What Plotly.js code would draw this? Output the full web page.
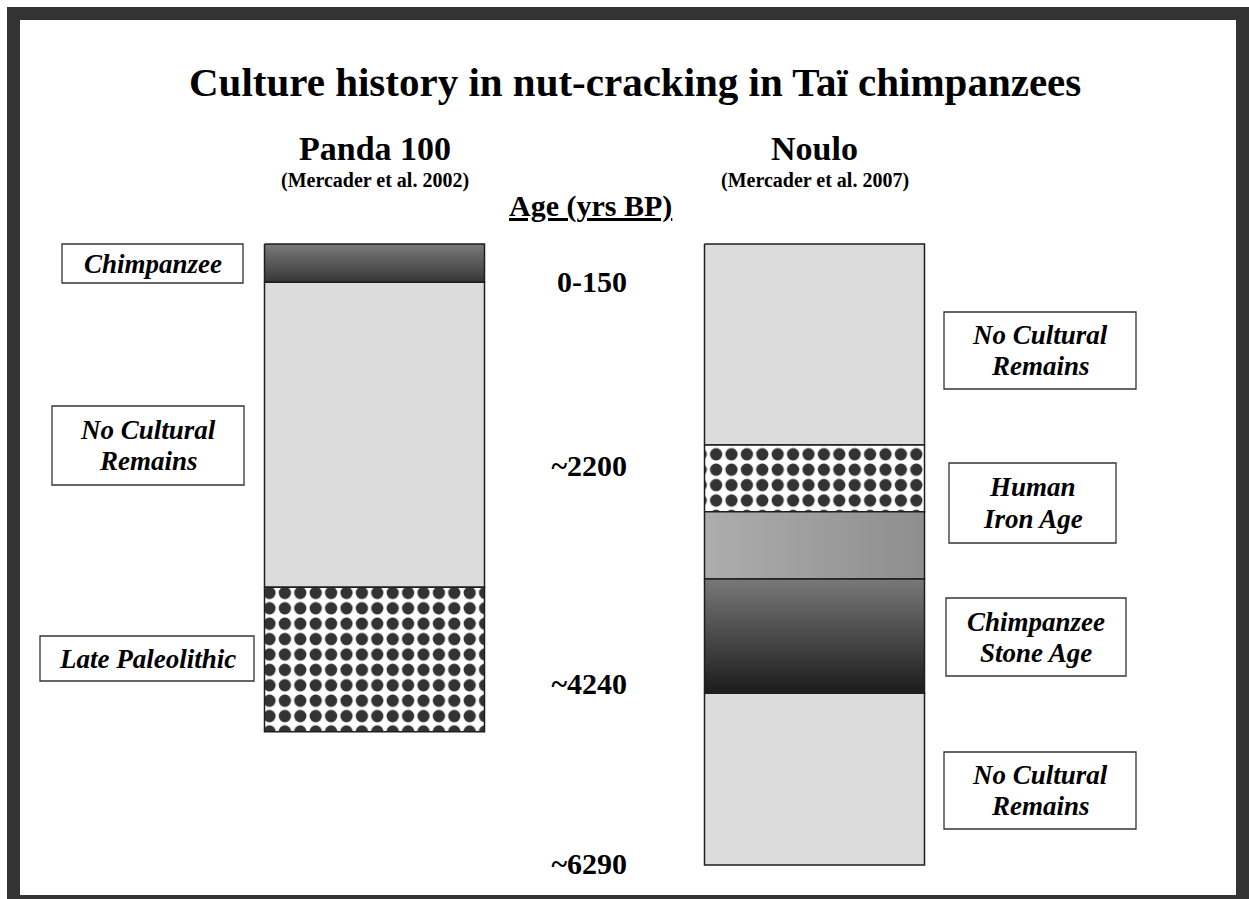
<!DOCTYPE html>
<html><head><meta charset="utf-8">
<script src="https://cdn.plot.ly/plotly-3.0.1.min.js"></script>
<style>html,body{margin:0;padding:0;background:#fff}</style>
</head><body><div id="chart" style="width:1249px;height:899px"></div>
<script>
// ---------------- DATA ----------------
const chartTitle = 'Culture history in nut-cracking in Taï chimpanzees';
const sites = ['Panda 100', 'Noulo'];
const siteRefs = ['(Mercader et al. 2002)', '(Mercader et al. 2007)'];
const ageAxisTitle = 'Age (yrs BP)';

// layers: relative depth (% of the Noulo section, top = 0)
const pandaLayerTop    = [0, 6.17, 55.28];
const pandaLayerBottom = [6.17, 55.28, 78.53];
const pandaLayerFill   = ['chimpBand', 'plain', 'checker'];

const nouloLayerTop    = [0, 32.37, 43.1, 53.94, 72.35];
const nouloLayerBottom = [32.37, 43.1, 53.94, 72.35, 100];
const nouloLayerFill   = ['plain', 'checker', 'ironBand', 'stoneBand', 'plain'];

const ageLabels = ['0-150', '~2200', '~4240', '~6290'];
const ageDepth  = [6.07, 35.6, 70.85, 99.8];

const pandaLabels = ['Chimpanzee', 'No Cultural<br>Remains', 'Late Paleolithic'];
const nouloLabels = ['No Cultural<br>Remains', 'Human<br>Iron Age', 'Chimpanzee<br>Stone Age', 'No Cultural<br>Remains'];

// ---------------- LAYOUT HELPERS ----------------
const W = 1249, H = 899;
const px = v => v / W;          // pixel -> paper x
const py = v => 1 - v / H;      // pixel -> paper y
const colWidth = 0.5;
const serif = 'Liberation Serif, Times New Roman, serif';

const fills = {
  plain:     {fillcolor: '#dcdcdc'},
  checker:   {fillcolor: '#ffffff', fillpattern: {shape: '.', fgcolor: '#333333', bgcolor: '#ffffff', size: 15.4, solidity: 0.5, fillmode: 'replace'}},
  chimpBand: {fillgradient: {type: 'vertical', colorscale: [[0, '#363636'], [1, '#7a7a7a']]}},
  ironBand:  {fillgradient: {type: 'horizontal', colorscale: [[0, '#adadad'], [1, '#8e8e8e']]}},
  stoneBand: {fillgradient: {type: 'vertical', colorscale: [[0, '#1c1c1c'], [1, '#787878']]}}
};

const traces = [];
function addColumn(center, tops, bottoms, fillKeys) {
  tops.forEach((t, i) => {
    const b = bottoms[i];
    const l = center - colWidth / 2, r = center + colWidth / 2;
    traces.push(Object.assign({
      type: 'scatter', mode: 'lines', fill: 'toself', hoverinfo: 'skip', showlegend: false,
      x: [l, r, r, l, l], y: [t, t, b, b, t],
      line: {color: '#1e1e1e', width: 1.5}
    }, fills[fillKeys[i]]));
  });
}
addColumn(1, pandaLayerTop, pandaLayerBottom, pandaLayerFill);
addColumn(2, nouloLayerTop, nouloLayerBottom, nouloLayerFill);

// label boxes (pixel positions: left, right, top, bottom)
const pandaBoxes = [[62, 243, 244, 283], [52, 244, 406, 485], [40, 254, 636, 681]];
const nouloBoxes = [[944, 1136, 312, 389], [949, 1116, 463, 543], [946, 1126, 598, 676], [944, 1136, 752, 829]];

const shapes = [
  {type: 'rect', xref: 'paper', yref: 'paper', layer: 'below', x0: px(7), x1: px(1260), y0: py(7), y1: py(910), fillcolor: '#333333', line: {width: 0}},
  {type: 'rect', xref: 'paper', yref: 'paper', layer: 'below', x0: px(20), x1: px(1236), y0: py(20), y1: py(895), fillcolor: '#ffffff', line: {width: 0}}
];
const annotations = [];
const labelFont = {family: serif, size: 27, color: '#000', weight: 'bold', style: 'italic'};
function addLabels(labels, boxes) {
  labels.forEach((txt, i) => {
    const [l, r, t, b] = boxes[i];
    shapes.push({type: 'rect', xref: 'paper', yref: 'paper', x0: px(l), x1: px(r), y0: py(t), y1: py(b),
      fillcolor: '#ffffff', line: {color: '#333333', width: 1.3}});
    const lines = txt.split('<br>');
    const cy = (t + b) / 2, gap = 31;
    lines.forEach((ln, k) => {
      const yy = cy + (k - (lines.length - 1) / 2) * gap;
      annotations.push({xref: 'paper', yref: 'paper', x: px((l + r) / 2), y: py(yy), text: ln,
        showarrow: false, xanchor: 'center', yanchor: 'middle', font: labelFont});
    });
  });
}
addLabels(pandaLabels, pandaBoxes);
addLabels(nouloLabels, nouloBoxes);

annotations.push({xref: 'paper', yref: 'paper', x: px(635), y: py(82), text: chartTitle, showarrow: false,
  xanchor: 'center', yanchor: 'middle', font: {family: serif, size: 41, weight: 'bold', color: '#000'}});
sites.forEach((s, i) => {
  annotations.push({xref: 'x', yref: 'paper', x: i + 1, y: py(148), text: s, showarrow: false,
    xanchor: 'center', yanchor: 'middle', font: {family: serif, size: 34, weight: 'bold', color: '#000'}});
  annotations.push({xref: 'x', yref: 'paper', x: i + 1, y: py(180), text: siteRefs[i], showarrow: false,
    xanchor: 'center', yanchor: 'middle', font: {family: serif, size: 20, weight: 'bold', color: '#000'}});
});
annotations.push({xref: 'paper', yref: 'paper', x: px(590), y: py(206), text: ageAxisTitle, showarrow: false,
  xanchor: 'center', yanchor: 'middle', font: {family: serif, size: 30, weight: 'bold', color: '#000', lineposition: 'under'}});

const layout = {
  width: W, height: H,
  margin: {l: 0, r: 0, t: 0, b: 0},
  paper_bgcolor: '#ffffff', plot_bgcolor: 'rgba(0,0,0,0)',
  showlegend: false,
  xaxis: {range: [1 - 374.5 / 440, 1 + (W - 374.5) / 440], visible: false, fixedrange: true},
  yaxis: {range: [(H - 244) / 6.21, -244 / 6.21], anchor: 'free', position: px(627), side: 'left',
    tickmode: 'array', tickvals: ageDepth, ticktext: ageLabels, ticks: '', showgrid: false, zeroline: false,
    showline: false, automargin: false, fixedrange: true,
    tickfont: {family: serif, size: 30, weight: 'bold', color: '#000'}},
  shapes: shapes,
  annotations: annotations
};
Plotly.newPlot('chart', traces, layout, {displayModeBar: false, staticPlot: true});
</script></body></html>
